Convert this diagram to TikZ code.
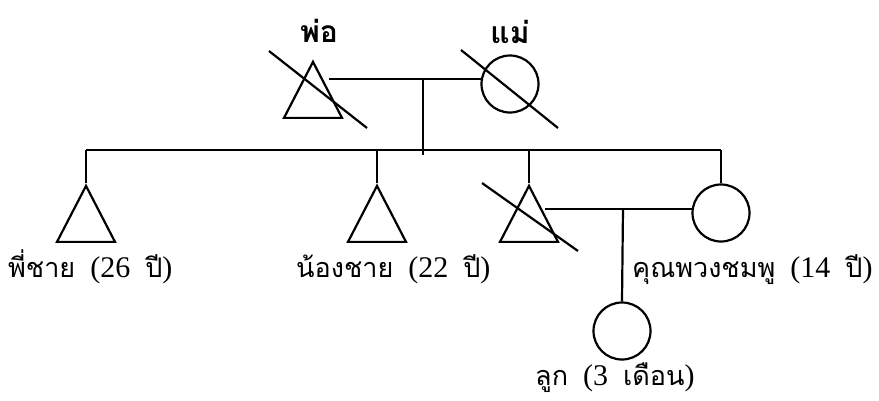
\documentclass[tikz,border=0pt]{standalone}
\usepackage{fontspec}
\setmainfont{Liberation Serif}
\newfontfamily\thaif[Script=Thai]{Loma}
\usetikzlibrary{shapes.geometric}
\tikzset{
  line/.style={line width=2.2pt, black},
  tri/.style={draw, line width=2.2pt, isosceles triangle, shape border rotate=90,
    isosceles triangle stretches, minimum height=56pt, minimum width=58pt, inner sep=0pt, anchor=apex},
  circ/.style={draw, line width=2.2pt, circle, minimum size=57pt, inner sep=0pt},
  lab/.style={anchor=base west, inner sep=0pt, font=\fontsize{30}{34}\selectfont},
  blab/.style={anchor=base, inner sep=0pt, font=\thaif\bfseries\fontsize{30}{34}\selectfont},
}
\newcommand\thx[1]{{\thaif\fontsize{27}{34}\selectfont #1}}
\begin{document}
\begin{tikzpicture}[x=1pt,y=-1pt]
\useasboundingbox (0,0) rectangle (879,400);
% parents
\node[tri] (fa) at (313,59) {};
\node[circ] (mo) at (510,84) {};
\node[blab] (lfa) at (319,42) {พ่อ};
\node[blab] (lmo) at (510,43) {แม่};
\draw[line] (269,51) -- (367,128);
\draw[line] (461,50) -- (558,128);
\coordinate (m1a) at (329,79);
\coordinate (m1b) at (482,79);
\coordinate (m1c) at (423,79);
\coordinate (d1) at (423,155);
\draw[line] (m1a) -- (m1b);
\draw[line] (m1c) -- (d1);
% siblings
\coordinate (sl) at (86,150);
\coordinate (sr) at (721,150);
\draw[line] (sl) -- (sr);
\node[tri] (b1) at (86,183) {};
\node[tri] (b2) at (377,183) {};
\node[tri] (me) at (529,183) {};
\node[circ] (wi) at (721,213) {};
\node[circ] (ch) at (622,331) {};
\draw[line] (sl) -- (b1.apex);
\draw[line] (b2.apex |- sl) -- (b2.apex);
\draw[line] (me.apex |- sl) -- (me.apex);
\draw[line] (sr) -- (wi.north);
\draw[line] (482,183) -- (578,251);
\coordinate (m2a) at (545,209);
\coordinate (m2b) at (693,209);
\coordinate (m2c) at (623,209);
\draw[line] (m2a) -- (m2b);
\draw[line] (m2c) -- (ch.north);
% labels
\node[lab] (l1) at (8,277) {\thx{พี่ชาย}\ \ (26\ \ \thx{ปี})};
\node[lab] (l2) at (296,277) {\thx{น้องชาย}\ \ (22\ \ \thx{ปี})};
\node[lab] (l3) at (632,277) {\thx{คุณพวงชมพู}\ \ (14\ \ \thx{ปี})};
\node[lab] (l4) at (535,385) {\thx{ลูก}\ \ (3\ \ \thx{เดือน})};
\end{tikzpicture}
\end{document}
